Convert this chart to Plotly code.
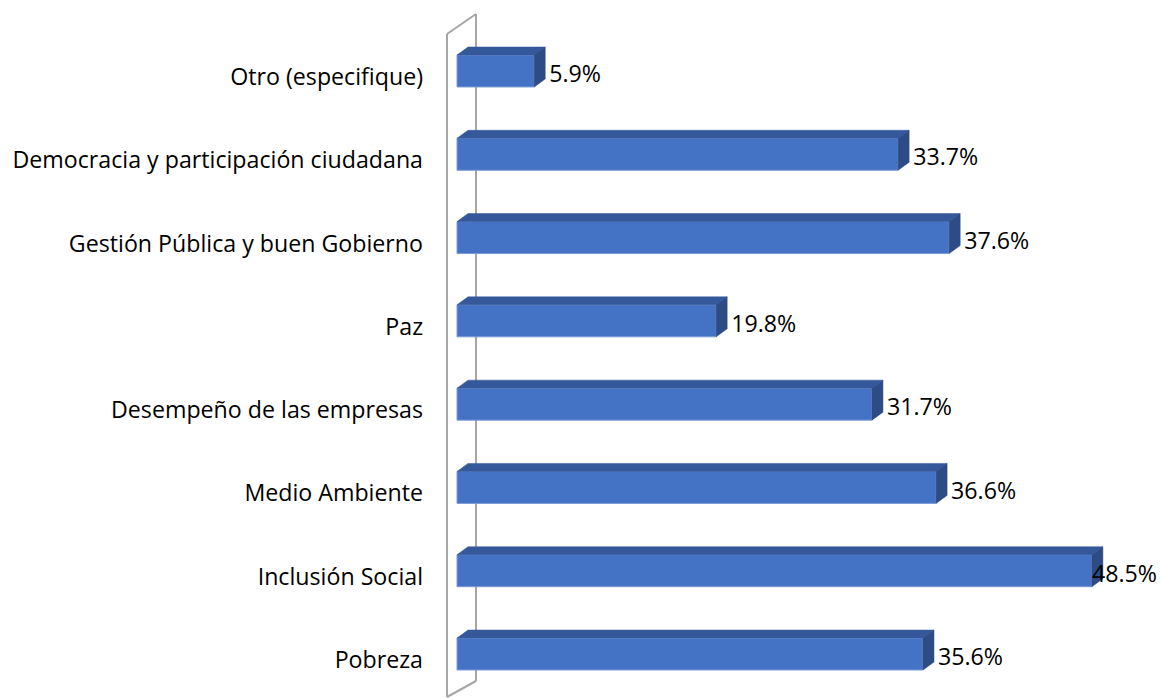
import plotly.graph_objects as go

categories = ["Pobreza", "Inclusión Social", "Medio Ambiente", "Desempeño de las empresas",
              "Paz", "Gestión Pública y buen Gobierno", "Democracia y participación ciudadana",
              "Otro (especifique)"]
values = [35.6, 48.5, 36.6, 31.7, 19.8, 37.6, 33.7, 5.9]
labels = ["35.6%", "48.5%", "36.6%", "31.7%", "19.8%", "37.6%", "33.7%", "5.9%"]

W, H = 1162, 698
ML = 430
SX = 13.09          # px per percent
SY = 83.29          # px per category
X0PX = 457          # pixel of 0%
Y0PX = 654          # pixel of first category
xmin = -(X0PX - ML) / SX
xmax = xmin + (W - ML) / SX
ymax = Y0PX / SY
ymin = -(H - Y0PX) / SY

BAR_W = 32 / SY
DX = 11 / SX
DY = 8 / SY

FRONT = "#4472C4"
TOP = "#35589A"
SIDE = "#2D4B85"
EDGE = "#7C9BD6"
FONT = "Open Sans"
FSIZE = 23.2

ys = list(range(len(categories)))

fig = go.Figure()

tx, ty, sx, sy = [], [], [], []
for y, v in zip(ys, values):
    t = y + BAR_W / 2
    b = y - BAR_W / 2
    tx += [0, v, v + DX, DX, 0, None]
    ty += [t, t, t + DY, t + DY, t, None]
    sx += [v, v + DX, v + DX, v, v, None]
    sy += [b, b + DY, t + DY, t, b, None]

fig.add_trace(go.Scatter(x=tx, y=ty, fill="toself", fillcolor=TOP, mode="lines",
                         line=dict(color=TOP, width=0.5), hoverinfo="skip", showlegend=False))
fig.add_trace(go.Scatter(x=sx, y=sy, fill="toself", fillcolor=SIDE, mode="lines",
                         line=dict(color=SIDE, width=0.5), hoverinfo="skip", showlegend=False))
fig.add_trace(go.Bar(x=values, y=ys, orientation="h", width=BAR_W,
                     marker=dict(color=FRONT, line=dict(color=EDGE, width=1)),
                     showlegend=False))

LABEL_OFF = 15 / SX
label_max = xmax - 70 / SX
lx = [min(v + LABEL_OFF, label_max) for v in values]
fig.add_trace(go.Scatter(x=lx, y=[y - 0.065 for y in ys], mode="text", text=labels,
                         textposition="middle right",
                         textfont=dict(family=FONT, size=FSIZE, color="#000000"),
                         hoverinfo="skip", showlegend=False, cliponaxis=False))

# wall (3D axis)
WALL_F = -10 / SX
WALL_B = 19 / SX
WALL_TOP_F = (Y0PX - 34) / SY
WALL_TOP_B = (Y0PX - 14) / SY
WALL_BOT_F = (Y0PX - 697) / SY
WALL_BOT_B = (Y0PX - 681) / SY
wall = dict(color="#A6A6A6", width=2)
fig.add_shape(type="line", x0=WALL_F, x1=WALL_F, y0=WALL_BOT_F, y1=WALL_TOP_F, xref="x", yref="y", line=wall)
fig.add_shape(type="line", x0=WALL_B, x1=WALL_B, y0=WALL_BOT_B, y1=WALL_TOP_B, xref="x", yref="y", line=wall, layer="below")
fig.add_shape(type="line", x0=WALL_F, x1=WALL_B, y0=WALL_TOP_F, y1=WALL_TOP_B, xref="x", yref="y", line=wall)
fig.add_shape(type="line", x0=WALL_F, x1=WALL_B, y0=WALL_BOT_F, y1=WALL_BOT_B, xref="x", yref="y", line=wall)

fig.update_layout(
    width=W, height=H,
    margin=dict(l=ML, r=0, t=0, b=0),
    paper_bgcolor="white", plot_bgcolor="white",
    xaxis=dict(range=[xmin, xmax], visible=False, fixedrange=True),
    yaxis=dict(range=[ymin, ymax], tickmode="array", tickvals=[y - 0.07 for y in ys],
               ticktext=categories, showgrid=False, zeroline=False, showline=False,
               ticks="", ticklabelstandoff=6, fixedrange=True,
               tickfont=dict(family=FONT, size=FSIZE, color="#000000")),
    font=dict(family=FONT),
    hovermode=False,
)

fig.write_html("out.html", config={"displayModeBar": False},
               post_script="document.body.style.margin='0';document.body.style.padding='0';")
